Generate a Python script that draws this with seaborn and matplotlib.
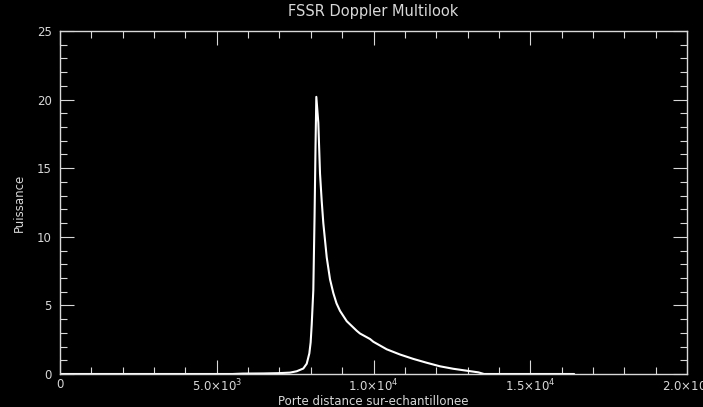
import matplotlib
matplotlib.use("Agg")
import matplotlib.pyplot as plt
import seaborn as sns
import pandas as pd
from matplotlib.ticker import MultipleLocator, FixedLocator

# Data
gate = [0, 3000, 5500, 5838, 6500, 6954, 7337, 7551, 7761, 7870, 7953, 7995, 8029, 8080,
        8120, 8150, 8176, 8240, 8294, 8348, 8399, 8508, 8613, 8718, 8820, 8932, 9146, 9465,
        9570, 9889, 9995, 10422, 10846, 11270, 11697, 12122, 12547, 12973, 13344, 13526,
        14500, 16400]
power = [0.0, 0.0, 0.0, 0.03, 0.04, 0.06, 0.1, 0.2, 0.4, 0.75, 1.5, 2.3, 3.6, 6.1,
         11.5, 16.5, 20.2, 18.3, 14.6, 12.6, 11.0, 8.5, 6.9, 5.9, 5.15, 4.6, 3.85, 3.15,
         2.95, 2.55, 2.35, 1.8, 1.42, 1.1, 0.82, 0.56, 0.38, 0.24, 0.12, 0.0,
         0.0, 0.0]
xtick_vals = [0, 5000, 10000, 15000, 20000]
xtick_labels = ["0", r"$5.0{\times}10^{3}$", r"$1.0{\times}10^{4}$",
                r"$1.5{\times}10^{4}$", r"$2.0{\times}10^{4}$"]
ytick_vals = [0, 5, 10, 15, 20, 25]

sns.set_style("dark")
plt.rcParams["font.family"] = ["DejaVu Sans"]
plt.rcParams["mathtext.fontset"] = "dejavusans"

fg = "#d8d8d8"
df = pd.DataFrame({"gate": gate, "power": power})

fig = plt.figure(figsize=(7.03, 4.07), dpi=100, facecolor="black")
ax = fig.add_axes([60/703, 33/407, 627/703, 343/407])
ax.set_facecolor("black")

sns.lineplot(data=df, x="gate", y="power", ax=ax, color="white", linewidth=1.5)

ax.set_xlim(0, 20000)
ax.set_ylim(0, 25)
ax.xaxis.set_major_locator(FixedLocator(xtick_vals))
ax.set_xticklabels(xtick_labels)
ax.xaxis.set_minor_locator(MultipleLocator(1000))
ax.yaxis.set_major_locator(FixedLocator(ytick_vals))
ax.yaxis.set_minor_locator(MultipleLocator(1))
ax.grid(False)

ax.tick_params(axis="both", which="both", direction="in", colors=fg,
               top=True, right=True, bottom=True, left=True, labelsize=8.5)
ax.tick_params(axis="x", pad=3)
ax.tick_params(axis="y", pad=6)
ax.tick_params(which="major", length=10, width=0.8)
ax.tick_params(which="minor", length=5, width=0.8)
for t in ax.get_xticklabels() + ax.get_yticklabels():
    t.set_color(fg)
for s in ax.spines.values():
    s.set_color(fg)
    s.set_linewidth(1.0)
    s.set_visible(True)

ax.set_xlabel("Porte distance sur-echantillonee", color=fg, fontsize=8.5, labelpad=0)
ax.set_ylabel("Puissance", color=fg, fontsize=8.5, labelpad=8)
ax.set_title("FSSR Doppler Multilook", color=fg, fontsize=10.5, pad=11)

fig.savefig("out.png", dpi=100, facecolor="black")
